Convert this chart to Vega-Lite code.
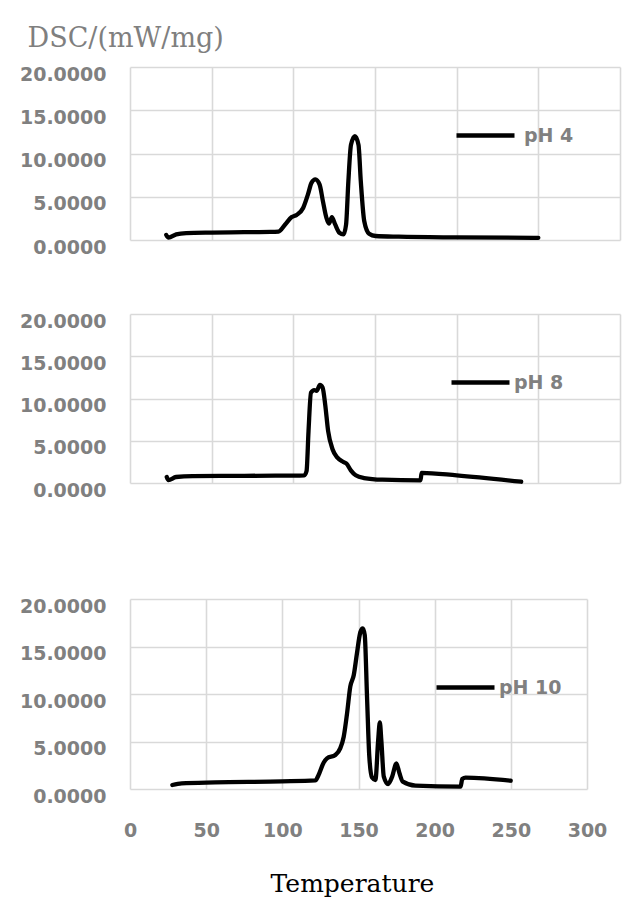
{
  "$schema": "https://vega.github.io/schema/vega-lite/v6.json",
  "padding": {"left": 19, "top": 24, "right": 2, "bottom": 8},
  "background": "white",
  "datasets": {
    "ph4": [
      {"T": 22.2, "v": 0.58}, {"T": 23.6, "v": 0.27}, {"T": 28.3, "v": 0.65}, {"T": 34.4, "v": 0.8},
      {"T": 50, "v": 0.86}, {"T": 70, "v": 0.9}, {"T": 86, "v": 0.93}, {"T": 90.9, "v": 0.98},
      {"T": 95, "v": 1.8}, {"T": 99, "v": 2.65}, {"T": 102, "v": 2.9}, {"T": 106, "v": 3.7},
      {"T": 109, "v": 5.3}, {"T": 111.1, "v": 6.6}, {"T": 113.5, "v": 7.0}, {"T": 116.1, "v": 6.4},
      {"T": 118.1, "v": 4.5}, {"T": 120.2, "v": 2.6}, {"T": 121.8, "v": 1.9}, {"T": 123.6, "v": 2.65},
      {"T": 125.6, "v": 1.8}, {"T": 128.2, "v": 0.84}, {"T": 130.7, "v": 0.65}, {"T": 132.3, "v": 1.8},
      {"T": 133.7, "v": 6.8}, {"T": 135.3, "v": 11.0}, {"T": 137.7, "v": 12.0}, {"T": 139.9, "v": 11.0},
      {"T": 141.3, "v": 6.8}, {"T": 143.4, "v": 2.2}, {"T": 146.4, "v": 0.73}, {"T": 150.4, "v": 0.46},
      {"T": 164.5, "v": 0.38}, {"T": 200, "v": 0.3}, {"T": 250, "v": 0.25}
    ],
    "ph8": [
      {"T": 22.5, "v": 0.71}, {"T": 23.5, "v": 0.35}, {"T": 28.2, "v": 0.71}, {"T": 38.3, "v": 0.82},
      {"T": 70, "v": 0.85}, {"T": 100, "v": 0.88}, {"T": 106.7, "v": 0.91}, {"T": 108.1, "v": 1.42},
      {"T": 109.3, "v": 6.15}, {"T": 110.8, "v": 10.7}, {"T": 112.8, "v": 11.0}, {"T": 114.2, "v": 10.9},
      {"T": 116.3, "v": 11.6}, {"T": 117.9, "v": 11.3}, {"T": 119.5, "v": 9.3}, {"T": 121.3, "v": 6.15},
      {"T": 124, "v": 4.0}, {"T": 127, "v": 3.0}, {"T": 130.5, "v": 2.5}, {"T": 132.5, "v": 2.3},
      {"T": 135.2, "v": 1.5}, {"T": 138.2, "v": 0.91}, {"T": 143.3, "v": 0.59}, {"T": 154.5, "v": 0.39},
      {"T": 177.9, "v": 0.32}, {"T": 178.5, "v": 1.2}, {"T": 200, "v": 0.9}, {"T": 239.5, "v": 0.15}
    ],
    "ph10": [
      {"T": 27.8, "v": 0.42}, {"T": 33.9, "v": 0.6}, {"T": 55.8, "v": 0.7}, {"T": 99.7, "v": 0.8},
      {"T": 121.6, "v": 0.9}, {"T": 123.8, "v": 1.47}, {"T": 127.1, "v": 2.77}, {"T": 129.3, "v": 3.23},
      {"T": 134.8, "v": 3.58}, {"T": 138, "v": 4.28}, {"T": 140.3, "v": 5.5}, {"T": 142.5, "v": 7.97},
      {"T": 144.6, "v": 10.77}, {"T": 146.9, "v": 12.0}, {"T": 149, "v": 14.3}, {"T": 151.2, "v": 16.5},
      {"T": 152.8, "v": 16.9}, {"T": 154.1, "v": 16.2}, {"T": 155.6, "v": 9.7}, {"T": 157.1, "v": 3.4},
      {"T": 158.9, "v": 1.2}, {"T": 161.1, "v": 0.95}, {"T": 162.9, "v": 5.1}, {"T": 164, "v": 7.0},
      {"T": 165, "v": 5.1}, {"T": 166.6, "v": 1.3}, {"T": 169.4, "v": 0.52}, {"T": 172.1, "v": 1.3},
      {"T": 174.9, "v": 2.7}, {"T": 176.9, "v": 1.65}, {"T": 179.1, "v": 0.77}, {"T": 187.4, "v": 0.35},
      {"T": 217, "v": 0.25}, {"T": 218.1, "v": 1.05}, {"T": 220.3, "v": 1.19}, {"T": 249.9, "v": 0.87}
    ]
  },
  "config": {
    "view": {"stroke": null},
    "axis": {
      "grid": true,
      "gridColor": "#d9d9d9",
      "gridWidth": 1.6,
      "domain": false,
      "ticks": false,
      "tickSize": 0,
      "labelFlush": false,
      "labelFont": "DejaVu Sans",
      "labelFontWeight": "bold",
      "labelFontSize": 19,
      "labelColor": "#808080"
    },
    "legend": {
      "orient": "none",
      "title": null,
      "symbolType": "stroke",
      "symbolSize": 3364,
      "symbolStrokeWidth": 4.3,
      "labelFont": "DejaVu Sans",
      "labelFontWeight": "bold",
      "labelFontSize": 19,
      "labelColor": "#808080",
      "padding": 0
    },
    "line": {"strokeWidth": 4.3, "interpolate": "monotone", "strokeCap": "round", "strokeJoin": "round"}
  },
  "bounds": "full",
  "spacing": 97,
  "resolve": {"scale": {"color": "independent"}, "legend": {"color": "independent"}},
  "vconcat": [
    {
      "bounds": "flush",
      "spacing": 74,
      "resolve": {"scale": {"color": "independent"}, "legend": {"color": "independent"}},
      "vconcat": [
        {
          "width": 490,
          "height": 173,
          "data": {"name": "ph4"},
          "mark": "line",
          "encoding": {
            "x": {"field": "T", "type": "quantitative", "scale": {"domain": [0, 300], "nice": false},
                  "axis": {"values": [0, 50, 100, 150, 200, 250, 300], "labels": false, "title": null}},
            "y": {"field": "v", "type": "quantitative", "scale": {"domain": [0, 20], "nice": false},
                  "axis": {"values": [0, 5, 10, 15, 20], "format": ".4f", "labelPadding": 24, "labelOffset": 7,
                           "title": "DSC/(mW/mg)", "titleAngle": 0, "titleX": -103, "titleY": -29,
                           "titleAlign": "left", "titleBaseline": "middle", "titleFont": "DejaVu Serif",
                           "titleFontSize": 27, "titleFontWeight": "normal", "titleColor": "#7f7f7f"}},
            "color": {"datum": "pH 4", "type": "nominal", "scale": {"range": ["black"]},
                      "legend": {"legendX": 324, "legendY": 37, "labelOffset": 7,
                                 "encode": {"labels": {"update": {"dy": {"value": 7}}}}}}
          }
        },
        {
          "width": 490,
          "height": 169,
          "data": {"name": "ph8"},
          "mark": "line",
          "encoding": {
            "x": {"field": "T", "type": "quantitative", "scale": {"domain": [0, 300], "nice": false},
                  "axis": {"values": [0, 50, 100, 150, 200, 250, 300], "labels": false, "title": null}},
            "y": {"field": "v", "type": "quantitative", "scale": {"domain": [0, 20], "nice": false},
                  "axis": {"values": [0, 5, 10, 15, 20], "format": ".4f", "labelPadding": 24, "labelOffset": 7, "title": null}},
            "color": {"datum": "pH 8", "type": "nominal", "scale": {"range": ["black"]},
                      "legend": {"legendX": 319, "legendY": 37, "labelOffset": 2,
                                 "encode": {"labels": {"update": {"dy": {"value": 7}}}}}}
          }
        }
      ]
    },
    {
      "width": 457,
      "height": 190,
      "data": {"name": "ph10"},
      "mark": "line",
      "encoding": {
        "x": {"field": "T", "type": "quantitative", "scale": {"domain": [0, 300], "nice": false},
              "axis": {"values": [0, 50, 100, 150, 200, 250, 300], "labelBaseline": "middle", "labelPadding": 41,
                       "title": "Temperature", "titleFont": "DejaVu Serif", "titleFontSize": 25,
                       "titleFontWeight": "normal", "titleColor": "black", "titleX": 222, "titleY": 94,
                       "titleBaseline": "middle"}},
        "y": {"field": "v", "type": "quantitative", "scale": {"domain": [0, 20], "nice": false},
              "axis": {"values": [0, 5, 10, 15, 20], "format": ".4f", "labelPadding": 24, "labelOffset": 7, "title": null}},
        "color": {"datum": "pH 10", "type": "nominal", "scale": {"range": ["black"]},
                  "legend": {"legendX": 304, "legendY": 57, "labelOffset": 2,
                             "encode": {"labels": {"update": {"dy": {"value": 6}}}}}}
      }
    }
  ]
}
